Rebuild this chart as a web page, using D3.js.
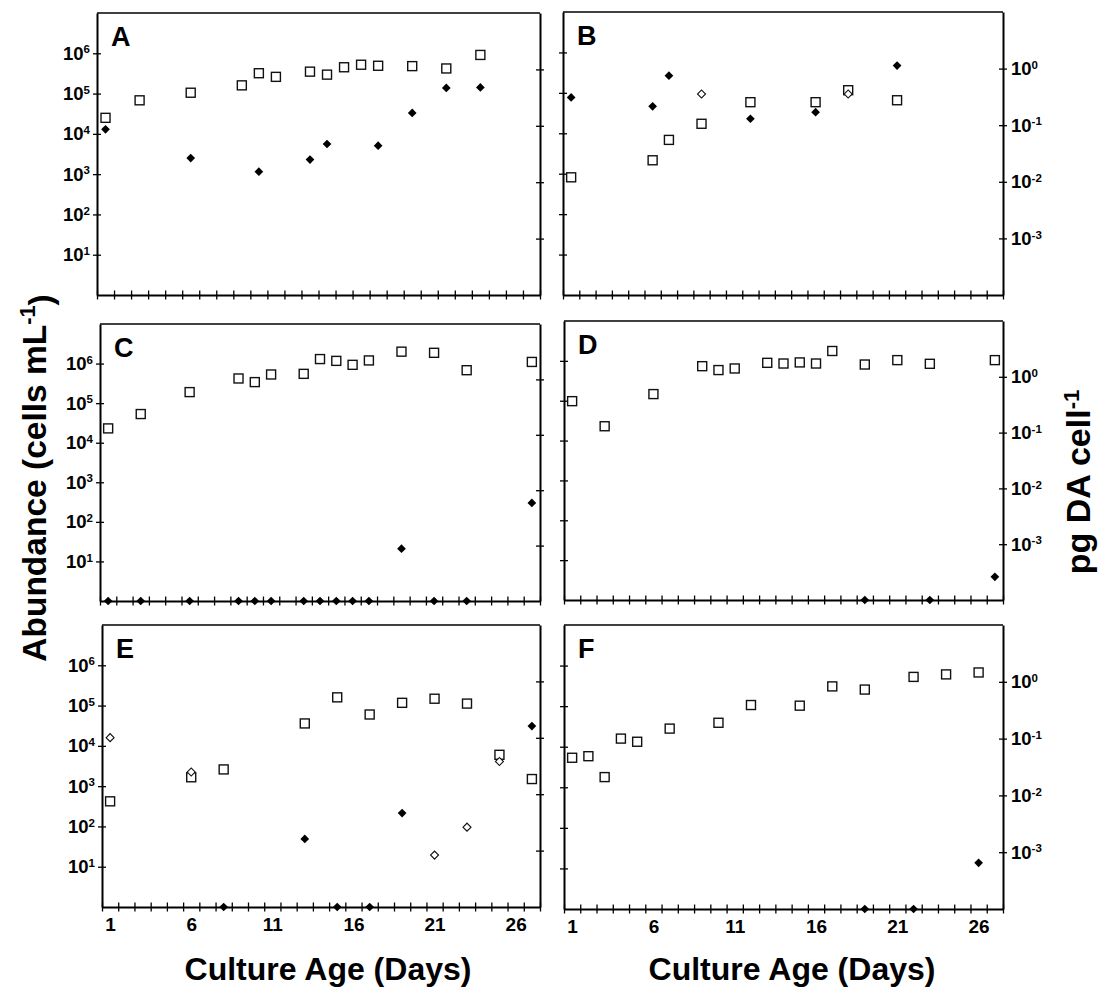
<!DOCTYPE html>
<html><head><meta charset="utf-8">
<script src="https://cdn.jsdelivr.net/npm/d3@7"></script>
<style>
body{margin:0;background:#fff}
svg{display:block}
</style>
</head><body>
<svg id="c" width="1106" height="995"></svg>
<script>
// ---------- DATA ----------
const leftTickVals = [10, 100, 1e3, 1e4, 1e5, 1e6];
const rightTickVals = [1, 0.1, 0.01, 0.001];
const xLabelDays = [1, 6, 11, 16, 21, 26];

// Panel A (cells mL-1, left axis)
const aSquareDays = [1, 3, 6, 9, 10, 11, 13, 14, 15, 16, 17, 19, 21, 23];
const aSquareVals = [2.5e4, 6.8e4, 1.05e5, 1.6e5, 3.2e5, 2.6e5, 3.5e5, 2.95e5, 4.5e5, 5.2e5, 4.9e5, 4.8e5, 4.2e5, 9.1e5];
const aFilledDays = [1, 6, 10, 13, 14, 17, 19, 21, 23];
const aFilledVals = [1.3e4, 2.5e3, 1.15e3, 2.3e3, 5.6e3, 5.1e3, 3.3e4, 1.38e5, 1.42e5];
const aOpenDays = [];
const aOpenVals = [];

// Panel B (pg DA cell-1, right axis)
const bSquareDays = [1, 6, 7, 9, 12, 16, 18, 21];
const bSquareVals = [0.012, 0.024, 0.055, 0.106, 0.255, 0.255, 0.415, 0.276];
const bFilledDays = [1, 6, 7, 12, 16, 21];
const bFilledVals = [0.31, 0.216, 0.75, 0.13, 0.17, 1.13];
const bOpenDays = [9, 18];
const bOpenVals = [0.357, 0.357];

// Panel C (cells mL-1, left axis); 0 = not detected (drawn on the axis)
const cSquareDays = [1, 3, 6, 9, 10, 11, 13, 14, 15, 16, 17, 19, 21, 23, 27];
const cSquareVals = [2.3e4, 5.3e4, 1.9e5, 4.2e5, 3.4e5, 5.3e5, 5.5e5, 1.3e6, 1.17e6, 9.3e5, 1.2e6, 2.0e6, 1.87e6, 6.8e5, 1.1e6];
const cFilledDays = [1, 3, 6, 9, 10, 11, 13, 14, 15, 16, 17, 19, 21, 23, 27];
const cFilledVals = [0, 0, 0, 0, 0, 0, 0, 0, 0, 0, 0, 21, 0, 0, 300];
const cOpenDays = [];
const cOpenVals = [];

// Panel D (pg DA cell-1, right axis)
const dSquareDays = [1, 3, 6, 9, 10, 11, 13, 14, 15, 16, 17, 19, 21, 23, 27];
const dSquareVals = [0.366, 0.13, 0.49, 1.55, 1.32, 1.41, 1.78, 1.73, 1.81, 1.73, 2.9, 1.66, 1.99, 1.71, 1.99];
const dFilledDays = [19, 23, 27];
const dFilledVals = [0, 0, 2.6e-4];
const dOpenDays = [];
const dOpenVals = [];

// Panel E (cells mL-1, left axis)
const eSquareDays = [1, 6, 8, 13, 15, 17, 19, 21, 23, 25, 27];
const eSquareVals = [420, 1660, 2600, 3.6e4, 1.6e5, 6.0e4, 1.17e5, 1.48e5, 1.12e5, 6000, 1500];
const eFilledDays = [8, 13, 15, 17, 19, 27];
const eFilledVals = [0, 49, 0, 0, 215, 3.1e4];
const eOpenDays = [1, 6, 21, 23, 25];
const eOpenVals = [1.6e4, 2250, 19.4, 96, 4100];

// Panel F (pg DA cell-1, right axis)
const fSquareDays = [1, 2, 3, 4, 5, 7, 10, 12, 15, 17, 19, 22, 24, 26];
const fSquareVals = [0.046, 0.049, 0.021, 0.1, 0.088, 0.15, 0.19, 0.39, 0.38, 0.83, 0.73, 1.22, 1.35, 1.46];
const fFilledDays = [19, 22, 26];
const fFilledVals = [0, 0, 6.5e-4];
const fOpenDays = [];
const fOpenVals = [];

// ---------- DRAWING ----------
const FONT = '"Liberation Sans", Arial, Helvetica, sans-serif';
const svg = d3.select('#c');
const zip = (d, v) => d.map((day, i) => ({day, val: v[i]}));

const panels = [
  {letter:'A', x0:97,  x1:540,  y0:13,  y1:295, nDays:26, axis:'left',  xlab:false, sq:zip(aSquareDays,aSquareVals), fd:zip(aFilledDays,aFilledVals), od:zip(aOpenDays,aOpenVals)},
  {letter:'B', x0:563, x1:1003, y0:12,  y1:295, nDays:27, axis:'right', xlab:false, sq:zip(bSquareDays,bSquareVals), fd:zip(bFilledDays,bFilledVals), od:zip(bOpenDays,bOpenVals)},
  {letter:'C', x0:100, x1:540,  y0:324, y1:601, nDays:27, axis:'left',  xlab:false, sq:zip(cSquareDays,cSquareVals), fd:zip(cFilledDays,cFilledVals), od:zip(cOpenDays,cOpenVals)},
  {letter:'D', x0:564, x1:1003, y0:321, y1:600, nDays:27, axis:'right', xlab:false, sq:zip(dSquareDays,dSquareVals), fd:zip(dFilledDays,dFilledVals), od:zip(dOpenDays,dOpenVals)},
  {letter:'E', x0:102, x1:540,  y0:625, y1:907, nDays:27, axis:'left',  xlab:true,  sq:zip(eSquareDays,eSquareVals), fd:zip(eFilledDays,eFilledVals), od:zip(eOpenDays,eOpenVals)},
  {letter:'F', x0:564, x1:1003, y0:625, y1:909, nDays:27, axis:'right', xlab:true,  sq:zip(fSquareDays,fSquareVals), fd:zip(fFilledDays,fFilledVals), od:zip(fOpenDays,fOpenVals)}
];

function styleAxis(g) {
  g.attr('font-family', FONT).attr('font-size', 18.5).attr('font-weight', 'bold');
  g.select('.domain').attr('stroke', '#000').attr('stroke-width', 2);
  g.selectAll('.tick line').attr('stroke', '#000').attr('stroke-width', 1.3);
  g.selectAll('.tick text').attr('fill', '#000');
}
function powLabels(g) {
  g.selectAll('.tick text').each(function(d) {
    const t = d3.select(this);
    const e = Math.round(Math.log10(d));
    t.text(null);
    t.append('tspan').text('10');
    t.append('tspan').attr('dy', '-0.55em').attr('font-size', 11.5).text(String(e));
  });
}

panels.forEach(p => {
  const g = svg.append('g');
  const x = d3.scaleLinear().domain([0.5, p.nDays + 0.5]).range([p.x0, p.x1]);
  const yL = d3.scaleLog().domain([1, 1e7]).range([p.y1, p.y0]);
  const yR = d3.scaleLog().domain([1e-4, 10]).range([p.y1, p.y0]);
  const y = p.axis === 'left' ? yL : yR;
  const yPos = v => v > 0 ? y(v) : p.y1;

  // top frame line
  g.append('line').attr('x1', p.x0).attr('x2', p.x1).attr('y1', p.y0).attr('y2', p.y0)
    .attr('stroke', '#000').attr('stroke-width', 1.6);

  // bottom axis (ticks between days)
  const halfTicks = d3.range(0, p.nDays + 1).map(i => i + 0.5);
  const gx = g.append('g').attr('transform', `translate(0,${p.y1})`)
    .call(d3.axisBottom(x).tickValues(halfTicks).tickFormat('').tickSizeOuter(0).tickSizeInner(4));
  styleAxis(gx);
  gx.selectAll('.tick line').attr('y1', -4.5).attr('y2', 4.5);

  if (p.xlab) {
    const gxl = g.append('g').attr('transform', `translate(0,${p.y1})`)
      .call(d3.axisBottom(x).tickValues(xLabelDays).tickFormat(d3.format('d')).tickSize(0).tickPadding(11));
    styleAxis(gxl);
    gxl.attr('font-size', 19);
    gxl.select('.domain').remove();
  }

  // left axis
  const gl = g.append('g').attr('transform', `translate(${p.x0},0)`)
    .call(d3.axisLeft(yL).tickValues(leftTickVals).tickSizeOuter(0).tickSizeInner(4).tickPadding(3));
  styleAxis(gl);
  gl.selectAll('.tick line').attr('x1', -4).attr('x2', 4);
  if (p.axis === 'left') powLabels(gl); else gl.selectAll('.tick text').remove();

  // right axis
  const gr = g.append('g').attr('transform', `translate(${p.x1},0)`)
    .call(d3.axisRight(yR).tickValues(rightTickVals).tickSizeOuter(0).tickSizeInner(4).tickPadding(4));
  styleAxis(gr);
  gr.selectAll('.tick line').attr('x1', -4).attr('x2', 4);
  if (p.axis === 'right') powLabels(gr); else gr.selectAll('.tick text').remove();

  // panel letter
  g.append('text').attr('x', p.x0 + 14).attr('y', p.y0 + 33)
    .attr('font-family', FONT).attr('font-weight', 'bold').attr('font-size', 27).text(p.letter);

  // open squares
  const s = 9;
  g.selectAll('rect.sq').data(p.sq).join('rect').attr('class', 'sq')
    .attr('x', d => x(d.day) - s / 2).attr('y', d => yPos(d.val) - s / 2)
    .attr('width', s).attr('height', s)
    .attr('fill', '#fff').attr('stroke', '#111').attr('stroke-width', 1.4);

  // open diamonds
  g.selectAll('path.od').data(p.od).join('path').attr('class', 'od')
    .attr('d', d3.symbol(d3.symbolSquare, 32)())
    .attr('transform', d => `translate(${x(d.day)},${yPos(d.val)}) rotate(45)`)
    .attr('fill', '#fff').attr('stroke', '#111').attr('stroke-width', 1.1);

  // filled diamonds
  g.selectAll('path.fd').data(p.fd).join('path').attr('class', 'fd')
    .attr('d', d3.symbol(d3.symbolSquare, 38)())
    .attr('transform', d => `translate(${x(d.day)},${yPos(d.val)}) rotate(45)`)
    .attr('fill', '#000');
});

// axis titles
function titleWithSup(parent, main, sup, size) {
  const t = parent.append('text').attr('font-family', FONT).attr('font-weight', 'bold')
    .attr('font-size', size).attr('text-anchor', 'middle');
  t.append('tspan').text(main);
  t.append('tspan').attr('dy', '-0.5em').attr('font-size', size * 0.65).text(sup);
  if (main.indexOf('(') >= 0) t.append('tspan').attr('dy', '0.5em').text(')');
  return t;
}
titleWithSup(svg, 'Abundance (cells mL', '-1', 33.5)
  .attr('transform', 'translate(46,478) rotate(-90)');
titleWithSup(svg, 'pg DA cell', '-1', 34)
  .attr('transform', 'translate(1090,482) rotate(-90)');

svg.append('text').attr('x', 328).attr('y', 980).attr('text-anchor', 'middle')
  .attr('font-family', FONT).attr('font-weight', 'bold').attr('font-size', 32)
  .text('Culture Age (Days)');
svg.append('text').attr('x', 792).attr('y', 980).attr('text-anchor', 'middle')
  .attr('font-family', FONT).attr('font-weight', 'bold').attr('font-size', 32)
  .text('Culture Age (Days)');
</script>
</body></html>
